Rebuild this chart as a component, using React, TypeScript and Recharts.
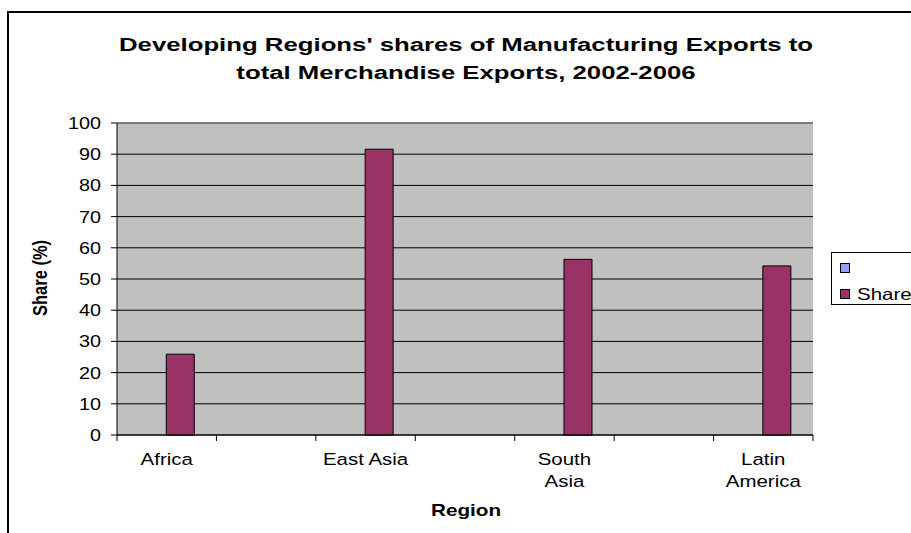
import React from 'react';
import { BarChart, Bar, XAxis, YAxis, CartesianGrid, Legend, ReferenceLine } from 'recharts';

// regions, with an empty slot between each pair (as in the source sheet)
const regions = ['Africa', '', 'East Asia', '', 'South Asia', '', 'Latin America'];
const shareValues = [25.9, null, 91.6, null, 56.3, null, 54.2];
const blankValues = [null, null, null, null, null, null, null];
const yTicks = [0, 10, 20, 30, 40, 50, 60, 70, 80, 90, 100];
const yMax = 100;

const labelLines: Record<string, string[]> = {
  'Africa': ['Africa'],
  'East Asia': ['East Asia'],
  'South Asia': ['South', 'Asia'],
  'Latin America': ['Latin', 'America'],
};

const data = regions.map((region, i) => ({
  region,
  blank: blankValues[i],
  share: shareValues[i],
}));

const FONT = "Arial, 'Liberation Sans', sans-serif";
// the source picture is stretched sideways, so text is too
const SX = 1.24;

function RegionTick({ x, y, payload, index, visibleTicksCount }: any) {
  const lines = labelLines[payload.value] || [];
  const half = typeof payload.offset === 'number' ? payload.offset : 0;
  const last = index === (visibleTicksCount || regions.length) - 1;
  return (
    <g transform={`translate(${x},${y})`}>
      {half > 0 && <line x1={-half} x2={-half} y1={0} y2={6} stroke="#000" />}
      {half > 0 && last && <line x1={half} x2={half} y1={0} y2={6} stroke="#000" />}
      <text transform={`scale(${SX},1)`} x={0} y={30} textAnchor="middle" fontFamily={FONT} fontSize={16.5} fill="#000">
        {lines.map((l, i) => (
          <tspan key={i} x={0} dy={i === 0 ? 0 : 22}>
            {l}
          </tspan>
        ))}
      </text>
    </g>
  );
}

function ValueTick({ x, y, payload }: any) {
  return (
    <g transform={`translate(${x},${y})`}>
      <text transform="scale(1.2,1)" x={0} y={0} dy="0.36em" textAnchor="end" fontFamily={FONT} fontSize={16.5} fill="#000">
        {payload.value}
      </text>
    </g>
  );
}

function LegendBox({ payload }: any) {
  return (
    <div
      style={{
        position: 'relative',
        border: '1px solid #000',
        width: 120,
        height: 53,
        boxSizing: 'border-box',
        fontFamily: FONT,
        fontSize: 16.5,
        background: '#fff',
      }}
    >
      {(payload || []).map((p: any, i: number) => (
        <div key={i} style={{ position: 'absolute', left: 8, top: 10 + i * 26, height: 10, display: 'flex', alignItems: 'center' }}>
          <span
            style={{
              width: 8,
              height: 8,
              background: p.color,
              border: '1px solid #000',
              display: 'inline-block',
              marginRight: 7,
              flex: 'none',
            }}
          />
          <span style={{ display: 'inline-block', transform: `scaleX(${SX})`, transformOrigin: 'left center', whiteSpace: 'nowrap' }}>
            {p.value}
          </span>
        </div>
      ))}
    </div>
  );
}

export default function App() {
  return (
    <div style={{ position: 'absolute', left: 0, top: 0, width: 911, height: 533, overflow: 'hidden', background: '#fff' }}>
      {/* chart area frame (cut off on right and bottom) */}
      <div
        style={{
          position: 'absolute',
          left: 7,
          top: 11,
          width: 1000,
          height: 1000,
          borderLeft: '2px solid #000',
          borderTop: '2px solid #000',
        }}
      />
      <div
        style={{
          position: 'absolute',
          left: 466,
          top: 31,
          transform: 'translateX(-50%) scaleX(1.43)',
          textAlign: 'center',
          fontFamily: FONT,
          fontWeight: 'bold',
          fontSize: 18,
          lineHeight: '28px',
          whiteSpace: 'nowrap',
        }}
      >
        Developing Regions' shares of Manufacturing Exports to
        <br />
        total Merchandise Exports, 2002-2006
      </div>
      <div
        style={{
          position: 'absolute',
          left: 40,
          top: 278,
          transform: `translate(-50%, -50%) rotate(-90deg) scaleY(${SX})`,
          fontFamily: FONT,
          fontWeight: 'bold',
          fontSize: 16.5,
          whiteSpace: 'nowrap',
        }}
      >
        Share (%)
      </div>
      <div
        style={{
          position: 'absolute',
          left: 466,
          top: 511,
          transform: `translate(-50%, -50%) scaleX(1.215)`,
          fontFamily: FONT,
          fontWeight: 'bold',
          fontSize: 17,
        }}
      >
        Region
      </div>
      <div style={{ position: 'absolute', left: 0, top: 0 }}>
        <BarChart
          width={911}
          height={533}
          data={data}
          margin={{ top: 123, right: 98, bottom: 38, left: 0 }}
          barCategoryGap="21.4%"
          barGap={0}
        >
          <CartesianGrid
            xAxisId="cat"
            yAxisId="left"
            vertical={false}
            stroke="#000"
            fill="#C0C0C0"
            fillOpacity={1}
          />
          <XAxis
            xAxisId="cat"
            dataKey="region"
            interval={0}
            height={60}
            tickSize={0}
            tickMargin={0}
            axisLine={{ stroke: '#000' }}
            tickLine={false}
            tick={<RegionTick />}
          />
          <YAxis
            yAxisId="left"
            width={117}
            domain={[0, yMax]}
            ticks={yTicks}
            interval={0}
            tickSize={6}
            tickMargin={10}
            axisLine={{ stroke: '#000' }}
            tickLine={{ stroke: '#000' }}
            tick={<ValueTick />}
          />
          <YAxis
            yAxisId="right"
            orientation="right"
            width={0}
            domain={[0, yMax]}
            tick={false}
            tickLine={false}
            axisLine={{ stroke: '#808080' }}
          />
          {/* grey top edge of the plot area */}
          <ReferenceLine xAxisId="cat" yAxisId="left" y={yMax} stroke="#808080" strokeWidth={1.5} />
          <Legend
            layout="horizontal"
            align="center"
            verticalAlign="middle"
            content={<LegendBox />}
            wrapperStyle={{ left: 831, top: 252, width: 120 }}
          />
          <Bar
            xAxisId="cat"
            yAxisId="left"
            dataKey="blank"
            name=""
            fill="#9999FF"
            stroke="#000"
            isAnimationActive={false}
          />
          <Bar
            xAxisId="cat"
            yAxisId="left"
            dataKey="share"
            name="Share"
            fill="#993366"
            stroke="#000"
            isAnimationActive={false}
          />
        </BarChart>
      </div>
    </div>
  );
}
